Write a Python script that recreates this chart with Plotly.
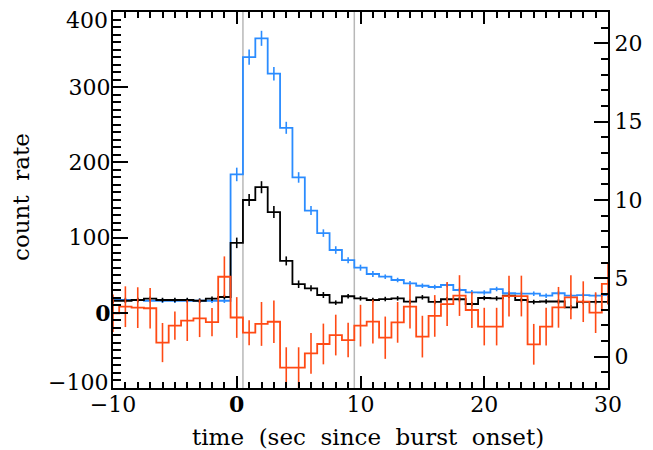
import plotly.graph_objects as go

time = list(range(-10, 31))

blue = [17, 17, 17, 16, 16, 16, 16, 16, 16, 16,
        184, 340, 365, 318, 246, 180, 136, 106, 83.5, 70,
        60, 51.6, 48, 43.6, 39.2, 36, 34.3, 37, 30.3, 27.2,
        27, 31.6, 26, 25.4, 25.4, 22.8, 26, 22.8, 23.5, 22.8, 23.5]
blue_err = [3, 3, 3, 3, 3, 3, 3, 3, 3, 3,
            9, 10, 10, 9, 8, 7, 6, 5, 5, 4,
            4, 4, 3, 3, 3, 3, 3, 3, 3, 3,
            3, 3, 3, 3, 3, 3, 3, 3, 3, 3, 3]

black = [16, 16, 17, 18.8, 17, 17, 17, 16, 18.8, 21,
         93, 150, 167, 134, 69, 38, 32.5, 23.7, 13.5, 22,
         19.2, 17, 18.3, 19.2, 14.8, 20.6, 14.4, 18, 18, 11.7,
         19.7, 19.2, 22.8, 17, 14.4, 15, 15, 7.3, 14.4, 14.4, 14.4]
black_err = [3, 3, 3, 3, 3, 3, 3, 3, 3, 3,
             7, 8, 8, 8, 6, 5, 4, 4, 3, 3,
             3, 3, 3, 3, 3, 3, 3, 3, 3, 3,
             3, 3, 3, 3, 3, 3, 3, 3, 3, 3, 3]

orange = [2.77, 3.19, 3.13, 3.09, 0.9, 1.98, 2.3, 2.45, 2.2, 5.1,
          2.5, 1.53, 2.09, 2.23, -0.7, -0.7, 0.21, 0.81, 1.38, 1.06,
          1.98, 2.24, 1.21, 2.19, 3.19, 1.28, 2.6, 3.36, 3.9, 2.98,
          1.92, 1.92, 3.87, 3.87, 0.79, 1.92, 3.15, 3.79, 3.51, 2.81, 4.64]
orange_err = [1.2, 1.3, 1.3, 1.3, 1.25, 0.9, 1.3, 1.2, 0.9, 1.3,
              1.3, 0.8, 1.4, 1.35, 1.3, 1.3, 1.3, 1.3, 1.3, 1.1,
              1.33, 1.4, 1.35, 1.3, 1.4, 1.33, 1.33, 1.4, 1.3, 1.15,
              1.2, 1.2, 1.3, 1.3, 1.3, 1.2, 1.3, 1.4, 1.3, 1.3, 1.3]

marker_lines = [0.5, 9.5]

x_ticks = [-10, 0, 10, 20, 30]
x_ticktext = ["\u221210", "<b>0</b>", "10", "20", "30"]
y_ticks = [-100, 0, 100, 200, 300, 400]
y_ticktext = ["", "<b>0</b>", "100", "200", "300", ""]
y_edge_labels = [(-100, "\u2212100", 6), (400, "400", -8)]

x_title = "time (sec since burst onset)"
y_title = "count rate"

FONT = "DejaVu Serif"
BLUE = "#2b8cff"
ORANGE = "#ff4a14"
GAP = " \u00a0"
TICKSIZE = 22

fig = go.Figure()


def add_series(y, err, color, axis, ew):
    fig.add_trace(go.Scatter(
        x=time, y=y, mode="lines", yaxis=axis,
        line=dict(color=color, width=1.8, shape="hvh"),
        error_y=dict(type="data", array=err, visible=True, color=color,
                     thickness=ew, width=0),
        showlegend=False, hoverinfo="skip"))


add_series(blue, blue_err, BLUE, "y", 1.6)
add_series(black, black_err, "black", "y", 1.6)
add_series(orange, orange_err, ORANGE, "y2", 1.6)

for xv in marker_lines:
    fig.add_shape(type="line", xref="x", yref="paper", x0=xv, x1=xv,
                  y0=0, y1=1, line=dict(color="#b8b8b8", width=1.5),
                  layer="below")

axis_common = dict(showline=True, linecolor="black", linewidth=2,
                   ticks="inside", tickcolor="black", tickwidth=1.5,
                   showgrid=False, zeroline=False, automargin=False,
                   tickfont=dict(family=FONT, size=TICKSIZE, color="black"))

annotations = [
    dict(text=x_title.replace(" ", GAP), xref="paper", yref="paper",
         x=0.515, y=-0.13, xanchor="center", yanchor="middle",
         showarrow=False, font=dict(family=FONT, size=23, color="black")),
    dict(text=y_title.replace(" ", GAP), xref="paper", yref="paper",
         x=-0.186, y=0.508, xanchor="center", yanchor="middle",
         textangle=-90, showarrow=False,
         font=dict(family=FONT, size=23, color="black")),
]
# IDL keeps the end labels of the left axis inside the frame
for val, txt, shift in y_edge_labels:
    annotations.append(dict(
        text=txt, xref="paper", yref="y", x=0, y=val, xanchor="right",
        yanchor="middle", xshift=-4, yshift=shift, showarrow=False,
        borderpad=0,
        font=dict(family=FONT, size=TICKSIZE, color="black")))

# page body has an 8px default margin: compensate so the plot frame
# lands at x 113..608, y 12..388 in the 653x450 window
fig.update_layout(
    width=645, height=442,
    margin=dict(l=105, r=45, t=4, b=62),
    paper_bgcolor="white", plot_bgcolor="white",
    xaxis=dict(range=[-10, 30], tickvals=x_ticks, ticktext=x_ticktext,
               ticklen=12, mirror="ticks", ticklabelstandoff=-4,
               minor=dict(dtick=1, ticklen=6, ticks="inside",
                          tickcolor="black", tickwidth=1.5, showgrid=False),
               **axis_common),
    yaxis=dict(range=[-100, 400], tickvals=y_ticks, ticktext=y_ticktext,
               ticklen=15, ticklabelstandoff=-4,
               minor=dict(dtick=10, ticklen=8, ticks="inside",
                          tickcolor="black", tickwidth=1.5, showgrid=False),
               **axis_common),
    yaxis2=dict(range=[-2, 22], dtick=5, tick0=0, ticklen=14,
                overlaying="y", side="right",
                minor=dict(dtick=1, ticklen=7, ticks="inside",
                           tickcolor="black", tickwidth=1.5, showgrid=False),
                **axis_common),
    annotations=annotations,
)

fig.write_html("out.html")
